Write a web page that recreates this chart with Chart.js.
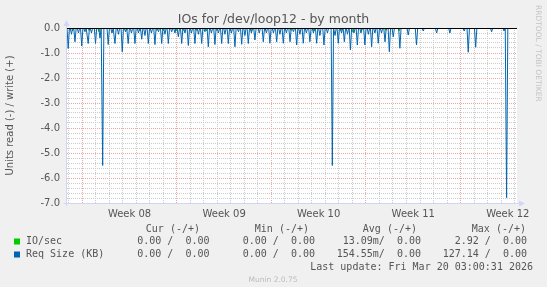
<!DOCTYPE html>
<html><head><meta charset="utf-8">
<script src="https://cdn.jsdelivr.net/npm/chart.js@4/dist/chart.umd.min.js"></script>
<style>html,body{margin:0;padding:0;background:#f0f0f0;overflow:hidden}canvas{display:block}</style>
</head><body>
<canvas id="c" width="547" height="287"></canvas>
<script>
// ---- text ----
const chartTitle = 'IOs for /dev/loop12 - by month';
const yAxisTitle = 'Units read (-) / write (+)';
const sideText = 'RRDTOOL / TOBI OETIKER';
const lastUpdate = 'Last update: Fri Mar 20 03:00:31 2026';
const versionText = 'Munin 2.0.75';

// ---- x axis (days since Mon Feb 16 00:00) ----
const xMinDay = -1.13;
const xMaxDay = 32.18;
const weekStarts = [0, 7, 14, 21, 28];
const weekLabels = ['Week 08', 'Week 09', 'Week 10', 'Week 11', 'Week 12'];

// ---- y axis ----
const yMin = -7;
const yMax = 0;

// ---- series: Req Size (KB), read side (negated), spike times (days) and values ----
const reqTimes = [-1.04,-0.80,-0.54,-0.28,-0.04,0.20,0.44,0.68,0.98,1.31,1.51,1.92,2.20,2.42,2.68,2.96,3.20,3.40,3.64,3.90,4.16,4.40,4.64,4.89,5.12,5.38,5.64,5.88,6.12,6.37,6.62,6.86,7.11,7.36,7.60,7.85,8.08,8.34,8.60,8.84,9.08,9.33,9.56,9.82,10.08,10.32,10.56,10.81,11.04,11.30,11.56,11.80,12.04,12.29,12.52,12.78,13.10,13.40,13.63,13.89,14.15,14.39,14.63,14.88,15.11,15.38,15.63,15.87,16.11,16.36,16.59,16.85,17.11,17.35,17.59,17.89,18.15,18.51,18.71,18.95,19.19,19.40,19.63,19.85,20.11,20.36,20.63,20.92,21.18,21.42,21.66,21.91,22.15,22.41,22.73,23.02,23.51,24.13,24.74,25.24,26.23,27.21,28.27,28.57,29.12,30.30,31.22,31.41];
const reqValues = [-0.82,-0.25,-0.55,-0.2,-0.72,-0.15,-0.62,-0.2,-0.62,-0.4,-5.5,-0.66,-0.2,-0.62,-0.25,-0.95,-0.15,-0.62,-0.2,-0.62,-0.2,-0.45,-0.3,-0.62,-0.2,-0.66,-0.15,-0.62,-0.25,-0.62,-0.15,-0.2,-0.35,-0.62,-0.2,-0.7,-0.2,-0.62,-0.25,-0.62,-0.15,-0.75,-0.2,-0.66,-0.2,-0.62,-0.25,-0.62,-0.2,-0.75,-0.15,-0.65,-0.3,-0.62,-0.2,-0.48,-0.2,-0.55,-0.2,-0.61,-0.2,-0.55,-0.25,-0.61,-0.2,-0.55,-0.15,-0.68,-0.25,-0.61,-0.2,-0.55,-0.2,-0.61,-0.3,-0.68,-0.2,-5.5,-0.3,-0.61,-0.2,-0.55,-0.25,-0.88,-0.2,-0.68,-0.2,-0.68,-0.25,-0.75,-0.2,-0.61,-0.2,-0.55,-0.95,-0.35,-0.81,-0.28,-0.68,-0.12,-0.2,-0.2,-0.12,-0.97,-0.77,-0.15,-0.12,-6.79];

// ---- series: IO/sec, read side (negated) ----
const ioTimes = [-0.71,0.50,1.24,3.29,4.27,5.51,6.00,6.95,7.48,8.42,9.21,9.95,10.96,12.54,13.53,15.45,17.15,19.15,20.00,20.68,22.48,23.45];
const ioValues = [-0.12,-0.1,-0.15,-0.1,-0.12,-0.1,-0.1,-0.12,-0.1,-0.1,-0.12,-0.1,-0.1,-0.12,-0.1,-0.1,-0.12,-0.1,-0.15,-0.1,-0.1,-0.12];

// ---- legend ----
const seriesNames = ['IO/sec', 'Req Size (KB)'];
const seriesColors = ['#00cc00', '#0066b3'];
const columnHeaders = ['Cur (-/+)', 'Min (-/+)', 'Avg (-/+)', 'Max (-/+)'];
const curText = ['0.00 /  0.00', '0.00 /  0.00'];
const minText = ['0.00 /  0.00', '0.00 /  0.00'];
const avgText = ['13.09m/  0.00', '154.55m/  0.00'];
const maxText = ['2.92 /  0.00', '127.14 /  0.00'];

function spikePoints(times, values) {
  const hw = 0.09;
  const pts = [{x: xMinDay, y: 0}];
  for (let i = 0; i < times.length; i++) {
    pts.push({x: times[i] - hw, y: 0}, {x: times[i], y: values[i]}, {x: times[i] + hw, y: 0});
  }
  pts.push({x: xMaxDay, y: 0});
  return pts;
}

const GRID = '#cccccc';
const MGRID = '#eea7a7';
const AXIS = '#cfd6f8';
const FONT = '#555555';

const munin = {
  id: 'munin',
  beforeDraw(chart) {
    const ctx = chart.ctx, a = chart.chartArea;
    ctx.save();
    ctx.fillStyle = '#f0f0f0';
    ctx.fillRect(0, 0, chart.width, chart.height);
    ctx.fillStyle = '#ffffff';
    ctx.fillRect(a.left, a.top, a.right - a.left, a.bottom - a.top);
    ctx.restore();
  },
  afterDraw(chart) {
    const ctx = chart.ctx, a = chart.chartArea;
    ctx.save();
    // zero line
    const y0 = Math.round(chart.scales.y.getPixelForValue(0)) + 0.5;
    ctx.strokeStyle = '#000000'; ctx.lineWidth = 1;
    ctx.beginPath(); ctx.moveTo(a.left, y0); ctx.lineTo(a.right, y0); ctx.stroke();
    // axes
    ctx.strokeStyle = AXIS; ctx.fillStyle = AXIS;
    const xl = Math.round(a.left) - 0.5, yb = Math.round(a.bottom) + 0.5;
    ctx.beginPath(); ctx.moveTo(xl, yb + 3); ctx.lineTo(xl, a.top - 4); ctx.stroke();
    ctx.beginPath(); ctx.moveTo(xl - 3, a.top - 2); ctx.lineTo(xl + 3, a.top - 2); ctx.lineTo(xl, a.top - 8); ctx.closePath(); ctx.fill();
    ctx.beginPath(); ctx.moveTo(xl - 3, yb); ctx.lineTo(a.right + 3, yb); ctx.stroke();
    ctx.beginPath(); ctx.moveTo(a.right + 2, yb - 3); ctx.lineTo(a.right + 2, yb + 3); ctx.lineTo(a.right + 8, yb); ctx.closePath(); ctx.fill();
    // title
    ctx.fillStyle = FONT;
    ctx.textBaseline = 'middle';
    ctx.textAlign = 'center';
    ctx.font = '12.5px "DejaVu Sans"';
    ctx.fillText(chartTitle, 273.5, 20);
    // y title
    ctx.save();
    ctx.translate(10, (a.top + a.bottom) / 2);
    ctx.rotate(-Math.PI / 2);
    ctx.font = '10px "DejaVu Sans"';
    ctx.fillText(yAxisTitle, 0, 0);
    ctx.restore();
    // side text
    ctx.save();
    ctx.translate(538, 5);
    ctx.rotate(Math.PI / 2);
    ctx.textAlign = 'left';
    ctx.fillStyle = '#c4c4c4';
    ctx.font = '7.5px "DejaVu Sans"';
    ctx.fillText(sideText, 0, 0);
    ctx.restore();
    // legend
    ctx.font = '10px "DejaVu Sans Mono"';
    ctx.fillStyle = FONT;
    ctx.textAlign = 'right';
    const headX = [200, 309, 417, 526];
    columnHeaders.forEach((h, i) => ctx.fillText(h, headX[i], 229.5));
    const valX = [209.5, 315, 421, 527];
    const rowY = [241.5, 254.5];
    for (let r = 0; r < seriesNames.length; r++) {
      ctx.fillStyle = seriesColors[r];
      ctx.fillRect(14, rowY[r] - 3, 6, 6);
      ctx.fillStyle = FONT;
      ctx.textAlign = 'left';
      ctx.fillText(seriesNames[r], 26, rowY[r]);
      ctx.textAlign = 'right';
      [curText, minText, avgText, maxText].forEach((col, i) => ctx.fillText(col[r], valX[i], rowY[r]));
    }
    ctx.fillText(lastUpdate, 533, 267);
    ctx.textAlign = 'center';
    ctx.fillStyle = '#bbbbbb';
    ctx.font = '7.5px "DejaVu Sans"';
    ctx.fillText(versionText, 273, 280);
    ctx.restore();
  }
};

const isInt = v => Math.abs(v - Math.round(v)) < 1e-6;

new Chart(document.getElementById('c'), {
  type: 'line',
  data: {
    datasets: [
      {label: seriesNames[1], data: spikePoints(reqTimes, reqValues), borderColor: seriesColors[1], borderWidth: 1, pointRadius: 0, tension: 0, fill: false},
      {label: seriesNames[0], data: spikePoints(ioTimes, ioValues), borderColor: seriesColors[0], borderWidth: 1, pointRadius: 0, tension: 0, fill: false}
    ]
  },
  options: {
    responsive: false,
    animation: false,
    devicePixelRatio: 1,
    layout: {padding: {left: 0, right: 30, top: 28, bottom: 0}},
    plugins: {legend: {display: false}, tooltip: {enabled: false}, title: {display: false}},
    scales: {
      x: {
        type: 'linear', min: xMinDay, max: xMaxDay,
        afterBuildTicks: s => { const t = []; for (let k = -2; k <= 64; k++) t.push({value: k / 2}); s.ticks = t; },
        afterFit: s => { s.height = 287 - 203; },
        border: {display: false, dash: [1, 1]},
        grid: {
          drawTicks: false,
          color: c => { const v = c.tick ? c.tick.value : 0.5; if (!isInt(v)) return 'rgba(0,0,0,0)'; return weekStarts.includes(Math.round(v)) ? MGRID : GRID; }
        },
        ticks: {
          autoSkip: false, maxRotation: 0, padding: 5, color: FONT,
          font: {family: 'DejaVu Sans', size: 10},
          callback: v => { const i = weekStarts.findIndex(w => Math.abs(w + 3.5 - v) < 1e-6); return i >= 0 ? weekLabels[i] : ''; }
        }
      },
      y: {
        type: 'linear', min: yMin, max: yMax,
        afterBuildTicks: s => { const t = []; for (let k = 0; k <= 35; k++) t.push({value: Math.round((yMin + k * 0.2) * 10) / 10}); s.ticks = t; },
        afterFit: s => { s.width = 67; },
        border: {display: false, dash: [1, 1]},
        grid: {
          drawTicks: false,
          color: c => { const v = c.tick ? c.tick.value : -0.5; if (v === 0 || v === yMin) return 'rgba(0,0,0,0)'; return isInt(v) ? MGRID : GRID; }
        },
        ticks: {
          autoSkip: false, padding: 7, color: FONT,
          font: {family: 'DejaVu Sans', size: 10},
          callback: v => isInt(v) ? Number(v).toFixed(1) : ''
        }
      }
    }
  },
  plugins: [munin]
});
</script>
</body></html>
